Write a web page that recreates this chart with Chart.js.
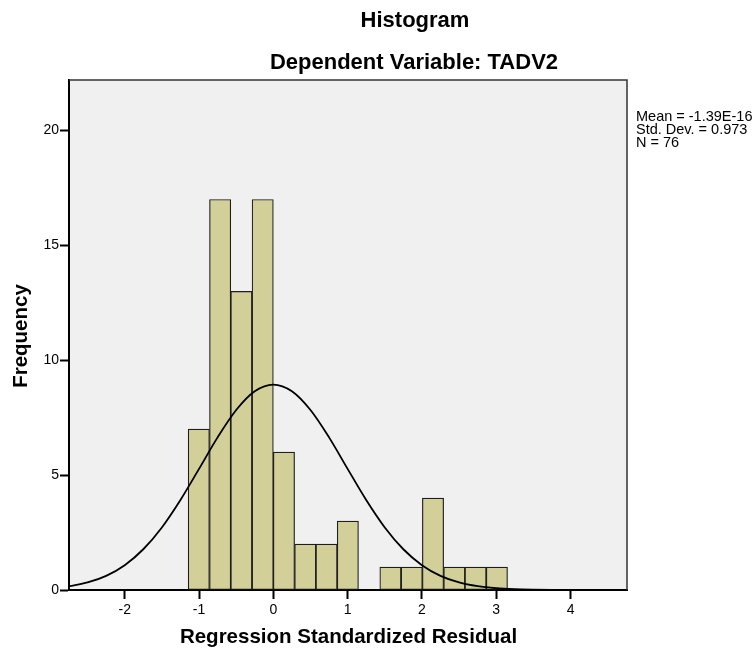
<!DOCTYPE html>
<html>
<head>
<meta charset="utf-8">
<script src="https://cdn.jsdelivr.net/npm/chart.js@4.4.1/dist/chart.umd.min.js"></script>
<style>
html,body{margin:0;padding:0;background:#fff;}
#wrap{width:753px;height:653px;position:relative;}
</style>
</head>
<body>
<div id="wrap"><canvas id="c" width="753" height="653"></canvas></div>
<script>
// ---- data ----
const binCenters = [-1.003, -0.716, -0.430, -0.143, 0.143, 0.430, 0.716, 1.003, 1.290, 1.576, 1.863, 2.149, 2.436, 2.722, 3.009];
const binCounts  = [7, 17, 13, 17, 6, 2, 2, 3, 0, 1, 1, 4, 1, 1, 1];
const curveX = [-2.75,-2.5,-2.25,-2,-1.75,-1.5,-1.25,-1,-0.75,-0.5,-0.25,0,0.25,0.5,0.75,1,1.25,1.5,1.75,2,2.25,2.5,2.75,3,3.25,3.5,3.75,4,4.25,4.5,4.76];
const curveY = [0.165,0.329,0.617,1.081,1.774,2.724,3.918,5.272,6.643,7.834,8.649,8.94,8.649,7.834,6.643,5.272,3.918,2.724,1.774,1.081,0.617,0.329,0.165,0.077,0.034,0.014,0.005,0.002,0.001,0,0];
const xTickValues = [-2, -1, 0, 1, 2, 3, 4];
const yTickValues = [0, 5, 10, 15, 20];
const titleText = 'Histogram';
const subtitleText = 'Dependent Variable: TADV2';
const xTitle = 'Regression Standardized Residual';
const yTitle = 'Frequency';
const statsLines = ['Mean = -1.39E-16', 'Std. Dev. = 0.973', 'N = 76'];

const FONT = "'Liberation Sans', Arial, Helvetica, sans-serif";

const decor = {
  id: 'decor',
  beforeDraw(chart) {
    const {ctx, chartArea: a} = chart;
    ctx.save();
    ctx.fillStyle = '#f0f0f0';
    ctx.fillRect(a.left, a.top, a.right - a.left, a.bottom - a.top);
    ctx.restore();
  },
  afterDraw(chart) {
    const {ctx, chartArea: a} = chart;
    ctx.save();
    ctx.strokeStyle = '#333';
    ctx.lineWidth = 1.5;
    ctx.beginPath();
    ctx.moveTo(a.left, a.top);
    ctx.lineTo(a.right, a.top);
    ctx.lineTo(a.right, a.bottom);
    ctx.stroke();
    ctx.fillStyle = '#000';
    ctx.textAlign = 'center';
    ctx.textBaseline = 'middle';
    ctx.font = 'bold 22px ' + FONT;
    ctx.fillText(titleText, 415, 21);
    ctx.fillText(subtitleText, 414, 63);
    ctx.font = 'bold 20.5px ' + FONT;
    ctx.fillText(xTitle, 348.5, 637);
    ctx.save();
    ctx.translate(21, 336);
    ctx.rotate(-Math.PI / 2);
    ctx.fillText(yTitle, 0, 0);
    ctx.restore();
    ctx.textAlign = 'left';
    ctx.font = '14.5px ' + FONT;
    statsLines.forEach((s, i) => ctx.fillText(s, 636, 117 + i * 13));
    ctx.restore();
  }
};

new Chart(document.getElementById('c'), {
  type: 'bar',
  data: {
    datasets: [
      {
        type: 'line',
        data: curveX.map((x, i) => ({x: x, y: curveY[i]})),
        borderColor: '#000',
        borderWidth: 1.8,
        pointRadius: 0,
        cubicInterpolationMode: 'monotone',
        fill: false,
        order: 0
      },
      {
        type: 'bar',
        data: binCenters.map((x, i) => ({x: x, y: binCounts[i]})),
        backgroundColor: '#d3cf98',
        borderColor: '#1e1e1e',
        borderWidth: 1.2,
        borderSkipped: false,
        barPercentage: 1,
        categoryPercentage: 1,
        order: 1
      }
    ]
  },
  options: {
    responsive: false,
    animation: false,
    events: [],
    layout: {padding: {left: 0, top: 80, right: 126, bottom: 0}},
    plugins: {legend: {display: false}, tooltip: {enabled: false}, title: {display: false}},
    scales: {
      x: {
        type: 'linear',
        offset: false,
        min: -2.75,
        max: 4.76,
        z: 1,
        afterBuildTicks: s => { s.ticks = xTickValues.map(v => ({value: v})); },
        afterFit: s => { s.height = 63; },
        grid: {offset: false, drawOnChartArea: false, drawTicks: true, tickLength: 9, tickColor: '#000', tickWidth: 2},
        border: {display: true, color: '#000', width: 2},
        ticks: {color: '#000', padding: 3, font: {family: FONT, size: 14}, maxRotation: 0}
      },
      y: {
        type: 'linear',
        min: 0,
        max: 22.2,
        z: 1,
        afterBuildTicks: s => { s.ticks = yTickValues.map(v => ({value: v})); },
        afterFit: s => { s.width = 69; },
        grid: {drawOnChartArea: false, drawTicks: true, tickLength: 9, tickColor: '#000', tickWidth: 2},
        border: {display: true, color: '#000', width: 2},
        ticks: {color: '#000', padding: 1, font: {family: FONT, size: 14}}
      }
    }
  },
  plugins: [decor]
});
</script>
</body>
</html>
